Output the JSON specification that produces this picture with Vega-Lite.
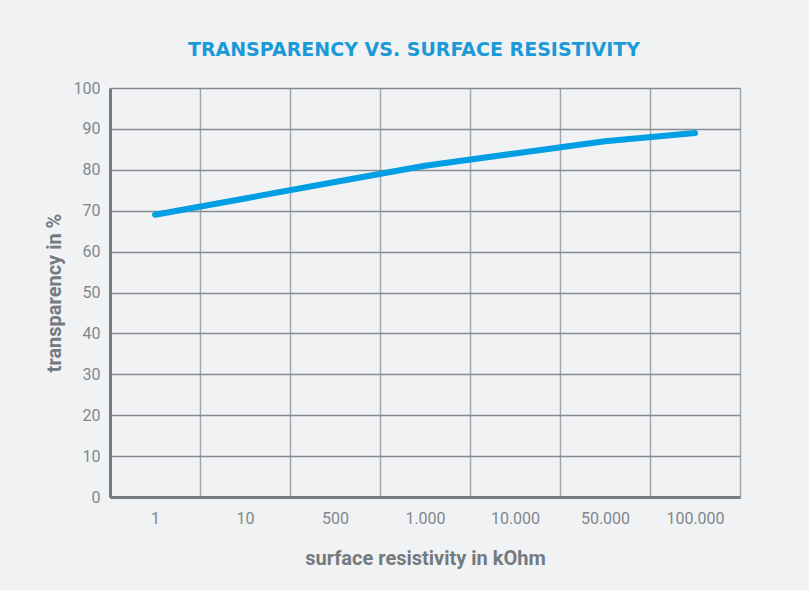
{
  "$schema": "https://vega.github.io/schema/vega-lite/v6.json",
  "width": 630,
  "height": 409,
  "autosize": {"type": "none"},
  "padding": {"left": 110, "top": 88, "right": 69, "bottom": 93},
  "background": "#f1f2f4",
  "title": {
    "text": "TRANSPARENCY VS. SURFACE RESISTIVITY",
    "color": "#1b9ad7",
    "font": "DejaVu Sans",
    "fontSize": 19,
    "fontWeight": "bold",
    "anchor": "middle",
    "offset": 20,
    "dx": -11
  },
  "data": {
    "values": [
      {"resistivity": "1", "transparency": 69},
      {"resistivity": "10", "transparency": 73},
      {"resistivity": "500", "transparency": 77},
      {"resistivity": "1.000", "transparency": 81},
      {"resistivity": "10.000", "transparency": 84},
      {"resistivity": "50.000", "transparency": 87},
      {"resistivity": "100.000", "transparency": 89}
    ]
  },
  "mark": {"type": "line", "color": "#009ee3", "strokeWidth": 6, "strokeCap": "round", "strokeJoin": "round"},
  "encoding": {
    "x": {
      "field": "resistivity",
      "type": "ordinal",
      "sort": null,
      "bandPosition": 0.5,
      "scale": {"type": "band", "paddingInner": 0, "paddingOuter": 0},
      "axis": {
        "title": "surface resistivity in kOhm",
        "labelAngle": 0,
        "tickBand": "extent",
        "grid": true,
        "gridColor": "#a2a8ac",
        "gridWidth": 1.5,
        "ticks": false,
        "labelPadding": 13,
        "titlePadding": 22
      }
    },
    "y": {
      "field": "transparency",
      "type": "quantitative",
      "scale": {"domain": [0, 100]},
      "axis": {
        "title": "transparency in %",
        "values": [0, 10, 20, 30, 40, 50, 60, 70, 80, 90, 100],
        "grid": true,
        "gridColor": "#868c91",
        "gridWidth": 1.5,
        "ticks": false,
        "labelPadding": 10,
        "titlePadding": 9
      }
    }
  },
  "config": {
    "view": {"stroke": null},
    "axis": {
      "domainColor": "#737a80",
      "domainWidth": 3,
      "labelColor": "#80878c",
      "labelFont": "Roboto",
      "labelFontSize": 16,
      "titleColor": "#737a80",
      "titleFont": "Roboto",
      "titleFontSize": 20,
      "titleFontWeight": "bold"
    }
  }
}
